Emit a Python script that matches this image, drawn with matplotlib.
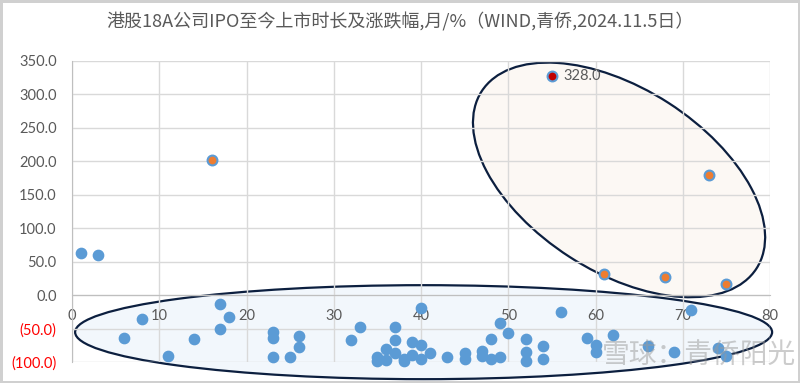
import numpy as np
import matplotlib
matplotlib.use("Agg")
import matplotlib.pyplot as plt
from matplotlib.patches import Ellipse
from matplotlib.transforms import ScaledTranslation

plt.rcParams['font.family'] = ['Lato', 'Noto Sans CJK SC', 'DejaVu Sans']

# months since listing, change since IPO (%)
blue_x = [1, 3, 6, 8, 11, 14, 17, 17, 18, 23, 23, 23, 25, 26, 26, 32, 33, 35, 35,
          36, 36, 37, 37, 37, 38, 38, 39, 39, 40, 40, 40, 41, 43, 45, 45, 47, 47,
          48, 48, 49, 49, 50, 52, 52, 52, 54, 54, 56, 59, 60, 60, 62, 66, 69, 71,
          74, 75]
blue_y = [63, 60, -64, -36, -91, -65, -14, -51, -33, -55, -64, -93, -93, -61, -77,
          -67, -48, -92, -98, -80, -97, -48, -67, -87, -95, -98, -70, -90, -19, -75,
          -96, -87, -93, -86, -95, -84, -91, -65, -96, -42, -93, -57, -65, -85, -99,
          -76, -96, -25, -64, -74, -85, -59, -76, -85, -22, -79, -91]
orange_x = [16, 61, 68, 73, 75]
orange_y = [202, 32, 27.5, 179, 16.5]
red_x = [55]
red_y = [328.0]

y_ticks = [350, 300, 250, 200, 150, 100, 50, 0, -50, -100]
x_ticks = [0, 10, 20, 30, 40, 50, 60, 70, 80]

fig = plt.figure(figsize=(8, 3.83), dpi=100)
fig.patch.set_edgecolor('#d0d0d0')
fig.patch.set_linewidth(2.5)
ax = fig.add_axes([0.09, 0.0548, 0.8725, 0.786])

ax.set_xlim(0, 80)
ax.set_ylim(-100, 350)
ax.set_xticks(x_ticks)
ylabels = ["(%.1f)" % abs(v) if v < 0 else "%.1f" % v for v in y_ticks]
ax.set_yticks(y_ticks, ylabels)
for lab, v in zip(ax.get_yticklabels(), y_ticks):
    lab.set_color('#ff0000' if v < 0 else '#595959')
ax.tick_params(axis='y', length=0, pad=11, labelsize=10.5)
ax.tick_params(axis='x', length=0, pad=10, labelsize=10.5, labelcolor='#595959')
ax.grid(True, color='#d9d9d9', lw=1)
ax.set_axisbelow(True)
for s in ['top', 'right']:
    ax.spines[s].set_visible(False)
ax.spines['bottom'].set_position(('data', 0))
ax.spines['bottom'].set_color('#bfbfbf')
ax.spines['left'].set_color('#bfbfbf')

# hand-drawn highlight ellipses (pixel sized, anchored in data)
low = Ellipse((0, 0), 6.97, 0.94, transform=fig.dpi_scale_trans +
              ScaledTranslation(40.3, -55.4, ax.transData),
              facecolor='#f2f7fc', edgecolor='#0c1f3f', lw=1.6,
              zorder=0.3, clip_on=False)
high = Ellipse((0, 0), 3.27, 1.83, angle=-32.8, transform=fig.dpi_scale_trans +
               ScaledTranslation(62.7, 172.2, ax.transData),
               facecolor='#fcf8f4', edgecolor='#0c1f3f', lw=1.6,
               zorder=0.3, clip_on=False)
ax.add_patch(low)
ax.add_patch(high)

ax.scatter(blue_x, blue_y, s=55, color='#5b9bd5', zorder=3, clip_on=False)
ax.scatter(orange_x, orange_y, s=50, color='#ed7d31', edgecolor='#5b9bd5',
           linewidth=1.5, zorder=3)
ax.scatter(red_x, red_y, s=50, color='#c00000', edgecolor='#5b9bd5',
           linewidth=1.5, zorder=3)
for xv, yv in zip(red_x, red_y):
    ax.annotate("%.1f" % yv, (xv, yv), xytext=(8, 0), textcoords='offset points',
                va='center', ha='left', fontsize=10.5, color='#595959', zorder=4)

fig.text(0.5, 0.943, "港股18A公司IPO至今上市时长及涨跌幅,月/%（WIND,青侨,2024.11.5日）",
         ha='center', va='center', fontsize=13, color='#595959',
         family=['Noto Sans CJK SC', 'DejaVu Sans'])

# platform watermark
fig.text(0.995, 0.07, "雪球：青侨阳光", ha='right', va='center', fontsize=20,
         color='#9a9a9a', alpha=0.5, family=['Noto Sans CJK SC'], zorder=10)

fig.savefig("out.png", dpi=100)
